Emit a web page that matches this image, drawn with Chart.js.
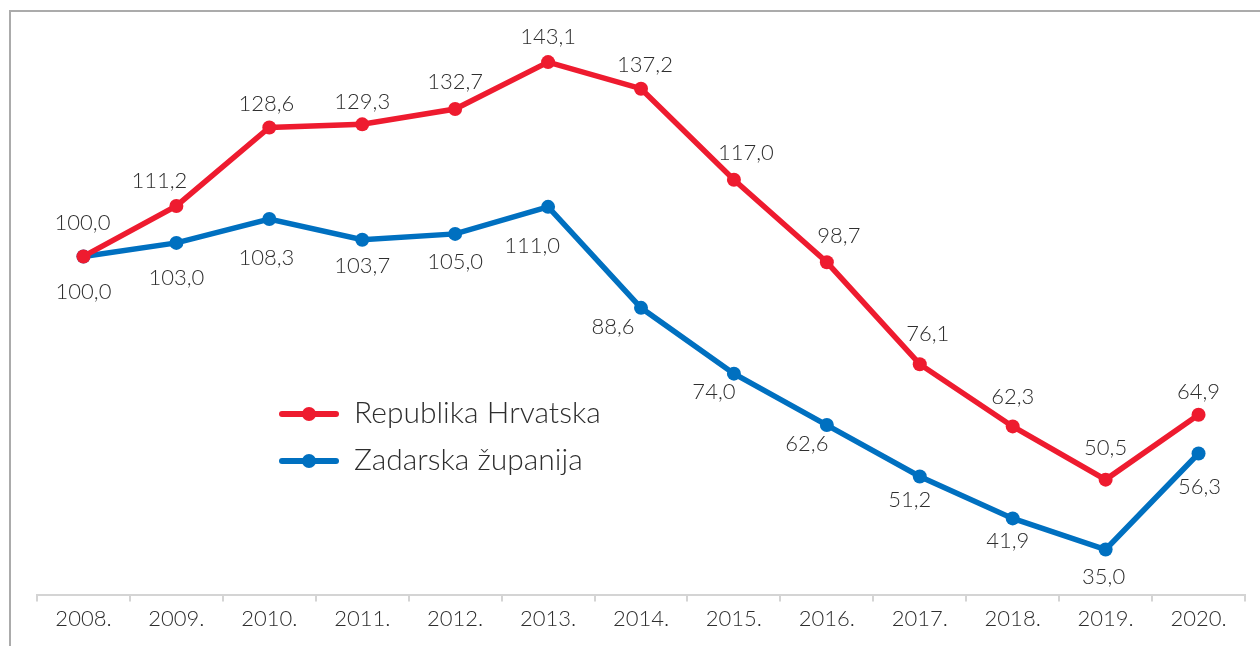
<!DOCTYPE html>
<html>
<head>
<meta charset="utf-8">
<script src="https://cdn.jsdelivr.net/npm/chart.js@4.4.1/dist/chart.umd.min.js"></script>
<style>
    html, body { margin: 0; padding: 0; background: #fff; }
    #wrap { position: relative; width: 1260px; height: 646px; overflow: hidden; }
    #frame { position: absolute; left: 9px; top: 10px; width: 1300px; height: 700px;
             border-top: 2px solid #ababab; border-left: 2px solid #ababab; }
    #chart { position: absolute; left: 0; top: 0; }
</style>
</head>
<body>
<div id="wrap">
    <div id="frame"></div>
    <canvas id="chart" width="1260" height="646"></canvas>
</div>
<script>
const years = ['2008.', '2009.', '2010.', '2011.', '2012.', '2013.', '2014.', '2015.', '2016.', '2017.', '2018.', '2019.', '2020.'];
const hrvatska = [100.0, 111.2, 128.6, 129.3, 132.7, 143.1, 137.2, 117.0, 98.7, 76.1, 62.3, 50.5, 64.9];
const zadar = [100.0, 103.0, 108.3, 103.7, 105.0, 111.0, 88.6, 74.0, 62.6, 51.2, 41.9, 35.0, 56.3];

const RED = '#ee1b2f';
const BLUE = '#0070c0';
const TEXT = '#2e2e2e';
const FONT = 'Lato, "Open Sans", sans-serif';

// where each value label sits relative to its point [dx, dy]
const redLabelOffsets = [[-1, -34], [-17, -25], [-3, -24], [0, -22], [0, -27], [0, -25], [4, -24], [12, -27], [12, -26], [8, -30], [0, -30], [0, -32], [0, -23]];
const blueLabelOffsets = [[0, 35], [0, 35], [-3, 39], [0, 26], [0, 28], [-16, 39], [-28, 19], [-20, 18], [-20, 19], [-10, 23], [-5, 23], [-2, 27], [1, 33]];

const valueLabels = {
    id: 'valueLabels',
    afterDatasetsDraw: function (chart) {
        const ctx = chart.ctx;
        ctx.save();
        ctx.font = '300 22px ' + FONT;
        ctx.fillStyle = TEXT;
        ctx.textAlign = 'center';
        ctx.textBaseline = 'middle';
        chart.data.datasets.forEach(function (ds, di) {
            const meta = chart.getDatasetMeta(di);
            meta.data.forEach(function (pt, i) {
                const off = ds.labelOffsets[i];
                const txt = ds.data[i].toFixed(1).replace('.', ',');
                ctx.fillText(txt, pt.x + off[0], pt.y + off[1]);
            });
        });
        ctx.restore();
    }
};

const innerLegend = {
    id: 'innerLegend',
    afterDraw: function (chart, args, opts) {
        const ctx = chart.ctx;
        ctx.save();
        chart.data.datasets.forEach(function (ds, i) {
            const y = opts.y + i * opts.gap;
            ctx.strokeStyle = ds.borderColor;
            ctx.lineWidth = 6;
            ctx.lineCap = 'round';
            ctx.beginPath();
            ctx.moveTo(opts.x, y);
            ctx.lineTo(opts.x + 54, y);
            ctx.stroke();
            ctx.fillStyle = ds.borderColor;
            ctx.beginPath();
            ctx.arc(opts.x + 27, y, 7, 0, Math.PI * 2);
            ctx.fill();
            ctx.fillStyle = TEXT;
            ctx.font = '300 30px ' + FONT;
            ctx.textAlign = 'left';
            ctx.textBaseline = 'middle';
            ctx.fillText(ds.label, opts.x + 72, y - 1);
        });
        ctx.restore();
    }
};

new Chart(document.getElementById('chart'), {
    type: 'line',
    data: {
        labels: years,
        datasets: [
            {
                label: 'Republika Hrvatska',
                data: hrvatska,
                borderColor: RED,
                backgroundColor: RED,
                borderWidth: 5.5,
                pointRadius: 7,
                pointBorderWidth: 0,
                pointBackgroundColor: RED,
                tension: 0,
                clip: false,
                labelOffsets: redLabelOffsets
            },
            {
                label: 'Zadarska županija',
                data: zadar,
                borderColor: BLUE,
                backgroundColor: BLUE,
                borderWidth: 5.5,
                pointRadius: 7,
                pointBorderWidth: 0,
                pointBackgroundColor: BLUE,
                tension: 0,
                clip: false,
                labelOffsets: blueLabelOffsets
            }
        ]
    },
    options: {
        responsive: false,
        animation: false,
        layout: {
            padding: { left: 37, right: 15, top: 31, bottom: 10 }
        },
        plugins: {
            legend: { display: false },
            tooltip: { enabled: false },
            innerLegend: { x: 282, y: 414, gap: 47 }
        },
        scales: {
            x: {
                offset: true,
                grid: {
                    offset: true,
                    drawOnChartArea: false,
                    drawTicks: true,
                    tickLength: 7,
                    color: '#d4d4d4',
                    lineWidth: 2
                },
                border: { display: true, color: '#d4d4d4', width: 2 },
                ticks: {
                    color: TEXT,
                    font: { family: FONT, size: 22, weight: '300' },
                    padding: 4,
                    maxRotation: 0,
                    autoSkip: false
                }
            },
            y: {
                display: false,
                min: 25,
                max: 150
            }
        }
    },
    plugins: [valueLabels, innerLegend]
});
</script>
</body>
</html>
